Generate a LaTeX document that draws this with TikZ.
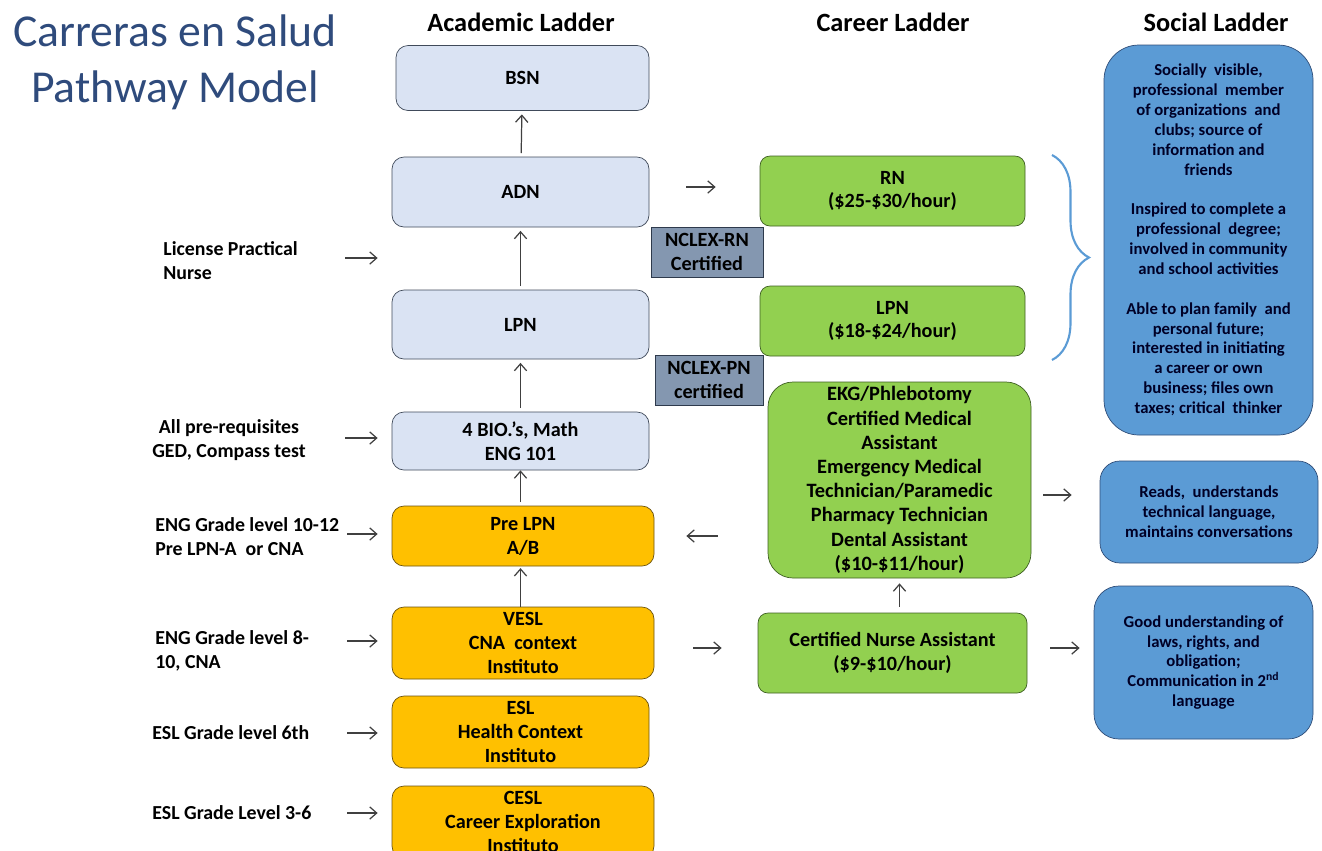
\documentclass[tikz,border=0pt]{standalone}
\usepackage{fontspec}
\setmainfont{Carlito}
\usetikzlibrary{arrows.meta,decorations.pathreplacing}

\definecolor{acadfill}{HTML}{DAE3F3}
\definecolor{acadline}{HTML}{404A5A}
\definecolor{prepfill}{HTML}{FFC000}
\definecolor{prepline}{HTML}{6B5310}
\definecolor{jobfill}{HTML}{92D050}
\definecolor{jobline}{HTML}{3E5F22}
\definecolor{socfill}{HTML}{5B9BD5}
\definecolor{socline}{HTML}{2F4D78}
\definecolor{examfill}{HTML}{8497B0}
\definecolor{examline}{HTML}{2E3A4C}
\definecolor{titleblue}{HTML}{2F4B7C}
\definecolor{arrowgray}{HTML}{404040}

\newcommand{\px}{0.02cm}
\newcommand{\ladderfont}{\fontsize{11.5}{13.6}\selectfont\bfseries}
\newcommand{\socialfont}{\fontsize{9.5}{11.3}\selectfont\bfseries}

\tikzstyle{acad-box}=[draw=acadline, fill=acadfill, rounded corners=0.24cm, align=center, font=\ladderfont, inner sep=0pt]
\tikzstyle{prep-box}=[acad-box, draw=prepline, fill=prepfill]
\tikzstyle{job-box}=[acad-box, draw=jobline, fill=jobfill, rounded corners=0.2cm]
\tikzstyle{exam-box}=[draw=examline, fill=examfill, align=center, font=\fontsize{11.5}{13.6}\selectfont\bfseries, inner sep=0pt]
\tikzstyle{soc-box}=[draw=socline, fill=socfill, align=center, font=\socialfont, text=black!85!blue, inner sep=0pt]
\tikzstyle{side-label}=[font=\fontsize{11.3}{13.6}\selectfont\bfseries, inner sep=0pt]
\tikzstyle{head-label}=[font=\fontsize{15}{18}\selectfont\bfseries]
\tikzstyle{step-arrow}=[draw=arrowgray, line width=0.7pt, -{Straight Barb[length=4pt,width=7pt]}]

\begin{document}
\begin{tikzpicture}[x=0.02cm, y=-0.02cm]
  \useasboundingbox (0,0) rectangle (1322,850);
  \clip (0,0) rectangle (1322,850);

  % title and column heads
  \node (title) at (175,62) [align=center, text=titleblue, font=\fontsize{26}{32}\selectfont]
        {Carreras en Salud\\Pathway Model};
  \node (head-acad) at (521,22) [head-label] {Academic Ladder};
  \node (head-career) at (893,22) [head-label] {Career Ladder};
  \node (head-social) at (1216,22) [head-label] {Social Ladder};

  % academic ladder
  \node (bsn) at (522.5,78) [acad-box, minimum width=253*\px, minimum height=65*\px] {BSN};
  \node (adn) at (520.5,192) [acad-box, minimum width=257*\px, minimum height=70*\px] {ADN};
  \node (lpn) at (520.5,324.5) [acad-box, minimum width=257*\px, minimum height=69*\px] {LPN};
  \node (bio) at (520.5,441) [acad-box, minimum width=257*\px, minimum height=58*\px] {4 BIO.'s, Math\\ENG 101};
  \node (prelpn) at (523,536) [prep-box, minimum width=262*\px, minimum height=60*\px] {Pre LPN\\A/B};
  \node (vesl) at (523,643) [prep-box, minimum width=262*\px, minimum height=72*\px] {VESL\\CNA\ \ context\\Instituto};
  \node (esl) at (520.5,732) [prep-box, minimum width=257*\px, minimum height=72*\px] {ESL\\Health Context\\Instituto};
  \node (cesl) at (523,822) [prep-box, minimum width=262*\px, minimum height=72*\px] {CESL\\Career Exploration\\Instituto};

  \draw[step-arrow, shorten <=2pt, shorten >=2pt] (adn) -- (bsn);
  \draw[step-arrow, shorten <=2pt, shorten >=2pt] (lpn) -- (adn);
  \draw[step-arrow, shorten <=2pt, shorten >=2pt] (bio) -- (lpn);
  \draw[step-arrow, shorten <=2pt, shorten >=0pt] (prelpn.north -| bio) -- (bio);
  \draw[step-arrow, shorten >=1pt] (vesl.north -| bio) -- (prelpn.south -| bio);

  % licensing exams
  \node (nclex-rn) at (707,252) [exam-box, minimum width=112*\px, minimum height=50*\px] {NCLEX-RN\\Certified};
  \node (nclex-pn) at (709,380) [exam-box, minimum width=108*\px, minimum height=50*\px] {NCLEX-PN\\certified};

  % career ladder
  \node (rn-job) at (892.5,191) [job-box, minimum width=265*\px, minimum height=70*\px] {RN\\(\$25-\$30/hour)};
  \node (lpn-job) at (892.5,321) [job-box, minimum width=265*\px, minimum height=70*\px] {LPN\\(\$18-\$24/hour)};
  \node (ekg) at (899.5,480) [job-box, rounded corners=0.5cm, minimum width=263*\px, minimum height=196*\px,
        font=\fontsize{11.6}{13.8}\selectfont\bfseries]
        {EKG/Phlebotomy\\Certified Medical\\Assistant\\Emergency Medical\\Technician/Paramedic\\Pharmacy Technician\\Dental Assistant\\(\$10-\$11/hour)};
  \node (cna) at (892.5,653) [job-box, minimum width=269*\px, minimum height=80*\px] {Certified Nurse Assistant\\(\$9-\$10/hour)};

  \draw[step-arrow, shorten <=37*\px, shorten >=44*\px] ([yshift=0.1cm]adn.east) -- ([yshift=0.1cm]adn.east -| rn-job.west);
  \draw[step-arrow, shorten <=50*\px, shorten >=32*\px] (ekg.west |- prelpn) -- (prelpn.east);
  \draw[step-arrow, shorten <=39*\px, shorten >=36*\px] ([yshift=-0.1cm]vesl.east) -- ([yshift=-0.1cm]vesl.east -| cna.west);
  \draw[step-arrow, shorten <=6*\px, shorten >=5*\px] (ekg.south |- cna.north) -- (ekg.south);

  % social ladder
  \node (social-top) at (1208.5,240) [soc-box, rounded corners=0.7cm, minimum width=209*\px, minimum height=390*\px]
        {Socially\ \ visible,\\professional\ \ member\\of organizations\ \ and\\clubs; source of\\information and\\friends\\[11.3pt]
         Inspired to complete a\\professional\ \ degree;\\involved in community\\and school activities\\[11.3pt]
         Able to plan family\ \ and\\personal future;\\interested in initiating\\a career or own\\business; files own\\taxes; critical\ \ thinker};
  \node (social-mid) at (1209,512) [soc-box, rounded corners=0.4cm, minimum width=218*\px, minimum height=102*\px]
        {Reads,\ \ understands\\technical language,\\maintains conversations};
  \node (social-low) at (1203.5,662.5) [soc-box, rounded corners=0.5cm, minimum width=219*\px, minimum height=153*\px]
        {Good understanding of\\laws, rights, and\\obligation;\\Communication in 2\textsuperscript{nd}\\language};

  \draw[step-arrow, shorten <=12*\px, shorten >=28*\px] ([yshift=-0.3cm]ekg.east) -- ([yshift=-0.3cm]ekg.east -| social-mid.west);
  \draw[step-arrow, shorten <=23*\px, shorten >=14*\px] ([yshift=0.1cm]cna.east) -- ([yshift=0.1cm]cna.east -| social-low.west);

  \coordinate (brace-top) at (1052,155);
  \coordinate (brace-bot) at (1052,360);
  \draw[socfill, line width=1.2pt, decorate, decoration={brace, amplitude=0.74cm}] (brace-top) -- (brace-bot);

  % entry points
  \node (entry-lpn) at (163,261) [side-label, anchor=west, align=left] {License Practical\\Nurse};
  \node (entry-pre) at (229,440) [side-label, align=center] {All pre-requisites\\GED, Compass test};
  \node (entry-eng12) at (155,537) [side-label, anchor=west, align=left] {ENG Grade level 10-12\\Pre LPN-A\ \ or CNA};
  \node (entry-eng8) at (155,651) [side-label, anchor=west, align=left] {ENG Grade level 8-\\10, CNA};
  \node (entry-esl6) at (152,733) [side-label, anchor=west] {ESL Grade level 6th};
  \node (entry-esl3) at (152,813) [side-label, anchor=west] {ESL Grade Level 3-6};

  \coordinate (tail-lpn) at (345,258);
  \coordinate (tail-pre) at (345,438);
  \coordinate (tail-eng12) at (347,534);
  \coordinate (tail-eng8) at (347,641);
  \coordinate (tail-esl6) at (347,733);
  \coordinate (tail-esl3) at (347,813);
  \draw[step-arrow, shorten >=14*\px] (tail-lpn) -- (tail-lpn -| adn.west);
  \draw[step-arrow, shorten >=14*\px] (tail-pre) -- (tail-pre -| bio.west);
  \draw[step-arrow, shorten >=14*\px] (tail-eng12) -- (tail-eng12 -| prelpn.west);
  \draw[step-arrow, shorten >=14*\px] (tail-eng8) -- (tail-eng8 -| vesl.west);
  \draw[step-arrow, shorten >=14*\px] (tail-esl6) -- (tail-esl6 -| esl.west);
  \draw[step-arrow, shorten >=14*\px] (tail-esl3) -- (tail-esl3 -| cesl.west);
\end{tikzpicture}
\end{document}
